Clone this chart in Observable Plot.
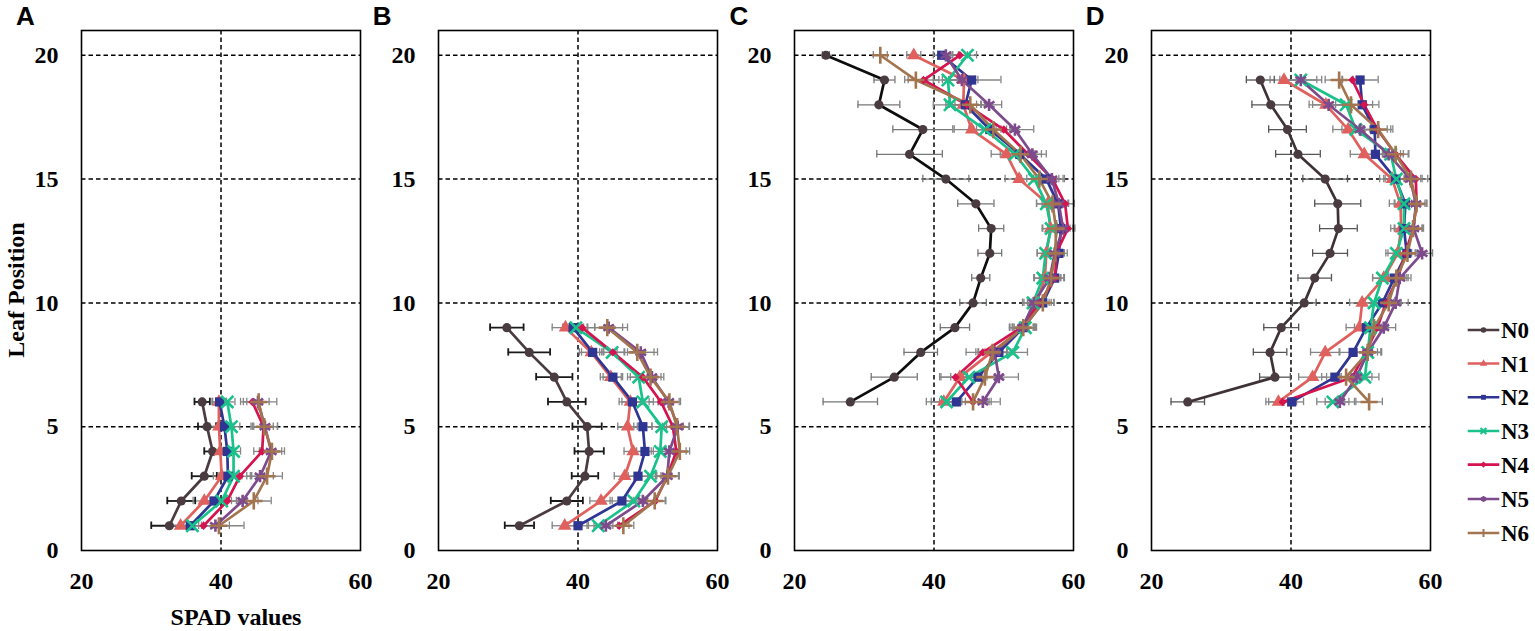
<!DOCTYPE html>
<html><head><meta charset="utf-8">
<script src="https://cdn.jsdelivr.net/npm/d3@7"></script>
<script src="https://cdn.jsdelivr.net/npm/@observablehq/plot@0.6"></script>
<style>
html,body{margin:0;padding:0;background:#fff;}
#wrap{position:relative;width:1535px;height:631px;overflow:hidden;background:#fff;}
.lbl{position:absolute;font-family:"Liberation Serif","Times New Roman",serif;font-weight:bold;color:#000;white-space:nowrap;}
.let{position:absolute;font-family:"Liberation Sans",Arial,sans-serif;font-weight:bold;font-size:26px;color:#000;line-height:1;}
.pl{position:absolute;top:0;}
</style></head>
<body><div id="wrap"></div>
<script>
// ---- data ----
const series = ["N0","N1","N2","N3","N4","N5","N6"];
const colors = ["#4a3b40","#e0605e","#2e3593","#19c28a","#d5134f","#7d4a8c","#a2744f"];
const panels = ["A","B","C","D"];
const xTicks = [20,40,60];
const yTicks = [0,5,10,15,20];

const leavesA = [1,2,3,4,5,6];
const spadA = [
  [32.6,34.3,37.6,38.8,38.0,37.3],
  [34.2,37.6,40.1,39.9,39.7,39.7],
  [35.6,39.0,41.0,40.9,40.5,39.8],
  [35.9,40.1,41.8,41.8,41.5,40.9],
  [37.5,40.9,42.7,45.9,46.1,44.5],
  [39.2,43.1,45.6,47.2,46.3,45.3],
  [39.7,44.7,46.6,47.3,46.2,45.4]
];
const errA = [
  [2.6,2.0,1.8,1.2,1.3,1.1],
  [1.5,1.6,1.2,1.0,1.3,1.0],
  [1.2,1.5,1.3,1.1,1.2,1.0],
  [1.6,1.4,1.2,1.0,1.2,1.1],
  [1.8,1.7,1.5,1.2,1.4,1.3],
  [2.0,2.2,1.9,1.5,1.8,1.6],
  [3.6,2.5,2.2,1.8,1.9,2.6]
];

const leavesB = [1,2,3,4,5,6,7,8,9];
const spadB = [
  [31.6,38.4,41.0,41.6,41.3,38.4,36.6,33.0,29.8],
  [38.1,43.3,46.7,47.9,47.1,47.5,44.7,41.9,38.2],
  [40.0,46.3,48.6,49.6,49.3,47.8,45.0,42.1,39.3],
  [42.9,48.0,50.4,51.8,52.0,49.3,48.7,44.9,39.7],
  [45.9,51.1,52.8,54.1,53.6,51.9,49.3,45.0,40.6],
  [44.0,49.3,52.8,53.1,54.3,53.0,50.6,49.0,44.4],
  [46.5,51.0,52.9,54.6,54.2,53.1,50.4,48.5,44.2]
];
const errB = [
  [2.1,2.3,1.9,2.1,2.1,2.7,2.6,3.0,2.4],
  [1.8,1.6,1.5,1.3,1.4,1.6,1.5,1.7,1.9],
  [1.5,1.7,1.4,1.2,1.3,1.5,1.4,1.6,1.5],
  [1.6,1.5,1.5,1.3,1.4,1.5,1.6,1.8,1.7],
  [1.4,1.5,1.6,1.4,1.5,1.7,1.8,1.6,1.8],
  [1.7,1.6,1.7,1.5,1.6,1.5,1.7,1.9,2.0],
  [1.5,1.5,1.6,1.4,1.8,1.6,1.5,2.9,2.9]
];

const leavesC = [6,7,8,9,10,11,12,13,14,15,16,17,18,19,20];
const spadC = [
  [28.0,34.3,38.1,43.0,45.6,46.7,48.0,48.2,46.0,41.7,36.5,38.4,32.1,32.9,24.5],
  [41.4,43.7,48.2,52.9,54.7,55.9,56.1,56.7,56.3,52.2,50.4,45.4,44.2,44.3,37.1],
  [43.2,46.3,49.3,52.8,55.6,57.3,57.9,58.2,57.8,56.1,52.3,48.0,44.5,45.4,41.1],
  [41.8,45.0,51.3,53.1,54.2,55.6,56.0,56.8,56.1,54.4,51.6,47.3,42.3,42.0,44.8],
  [45.6,43.1,47.0,52.5,55.1,57.4,57.5,59.2,58.8,57.0,53.5,50.0,44.7,38.5,43.7],
  [47.0,49.3,48.7,52.7,54.3,56.6,57.3,58.5,57.9,56.9,54.1,51.6,47.9,44.0,41.7],
  [45.6,47.3,48.4,52.8,55.6,56.8,57.4,57.5,57.0,55.1,52.4,48.5,45.2,37.4,32.3]
];
const errC = [
  [3.9,3.3,2.4,2.1,1.9,1.3,1.7,1.8,2.6,3.3,4.7,4.3,3.0,1.5,0.5],
  [2.5,2.7,2.2,1.6,1.8,1.5,1.3,1.2,1.6,2.0,2.2,2.5,2.5,2.0,1.0],
  [2.4,2.5,2.0,1.5,1.6,1.4,1.2,1.3,1.5,1.8,2.0,2.4,2.3,4.2,1.2],
  [2.2,2.6,2.1,1.6,1.5,1.3,1.2,1.2,1.4,1.9,2.1,2.3,2.4,2.1,1.3],
  [2.6,2.3,2.4,1.7,1.7,1.2,1.1,1.0,1.3,1.7,1.9,2.1,2.6,2.2,1.1],
  [2.5,2.8,2.3,1.8,1.6,1.5,1.2,1.4,1.3,1.6,2.0,2.7,1.8,1.9,1.0],
  [2.3,2.5,2.1,1.6,1.6,1.4,1.3,1.2,1.5,1.8,2.1,2.4,2.2,1.6,1.0]
];

const leavesD = [6,7,8,9,10,11,12,13,14,15,16,17,18,19];
const spadD = [
  [25.2,37.7,37.0,38.6,41.9,43.4,45.6,46.8,46.7,44.9,41.0,39.5,37.1,35.6],
  [38.2,43.1,44.9,49.8,50.2,53.3,55.3,55.8,55.7,54.5,50.5,48.2,45.0,39.0],
  [40.1,46.3,48.9,50.8,53.1,54.8,56.6,56.2,56.4,55.0,52.1,52.0,50.2,49.9],
  [46.0,50.6,51.0,51.4,51.9,53.1,55.1,56.2,56.2,55.1,54.3,49.3,47.9,41.4],
  [38.8,48.8,50.7,52.4,53.6,55.3,56.4,57.5,58.0,57.9,55.0,52.4,50.5,48.8],
  [47.0,49.4,51.0,53.3,55.0,55.6,58.8,57.6,57.9,57.1,54.0,49.9,45.4,41.4],
  [51.2,47.9,51.0,51.9,54.0,55.1,56.7,57.5,58.0,57.2,55.0,52.5,48.6,46.9]
];
const errD = [
  [2.4,2.2,2.4,2.5,1.7,2.4,2.5,2.7,3.3,3.2,3.2,2.7,2.7,2.0],
  [1.8,2.0,2.1,1.9,1.8,1.6,1.4,1.5,1.6,1.8,2.0,2.2,2.4,2.0],
  [1.7,1.9,2.0,1.7,1.6,1.5,1.3,1.4,1.5,1.7,1.9,1.8,1.5,2.6],
  [2.3,2.0,1.9,1.6,1.7,1.4,1.5,1.3,1.4,1.6,1.8,2.0,2.6,3.0],
  [2.0,1.8,1.7,1.5,1.6,1.5,1.4,1.3,1.5,1.7,1.9,1.9,2.1,1.4],
  [2.1,2.2,1.9,1.7,1.8,1.6,1.5,1.4,1.3,1.5,1.7,2.0,2.3,2.3],
  [1.9,2.1,2.0,1.6,1.8,1.5,1.4,1.3,1.4,1.6,1.8,2.1,2.2,2.0]
];

// ---- styling ----
const symbols = ["circle","triangle","square","times","diamond2","asterisk","plus"];
const filled  = [true,true,true,false,true,false,false];
const radius  = [4.6,5.0,5.2,5.6,3.8,5.8,5.6];
const panelLeft = [81, 437.7, 794.4, 1150.8];
const n0Line = ["#4a3b40","#4a3b40","#0d0d0d","#3f3236"];
const n0Err  = ["#1a1a1a","#1a1a1a","#777777","#555555"];
const wrap = document.getElementById("wrap");

function makePanel(k, leaves, spad, err) {
  const rows = [];
  series.forEach((s, si) => leaves.forEach((l, i) => rows.push({s, si, leaf: l, v: spad[si][i], e: err[si][i]})));
  const errColor = d => d.si === 0 ? n0Err[k] : "#858585";
  const errW = d => (d.si === 0 && k < 2) ? 1.8 : 1.3;
  const cap = 0.15;
  const marks = [
    Plot.ruleY([5,10,15,20], {stroke: "#000", strokeWidth: 1.5, strokeDasharray: "4.5,3"}),
    Plot.ruleX([40], {stroke: "#000", strokeWidth: 1.5, strokeDasharray: "4.5,3"}),
    Plot.ruleY(rows, {y: "leaf", x1: d => d.v - d.e, x2: d => d.v + d.e, stroke: errColor, strokeWidth: errW}),
    Plot.ruleX(rows, {x: d => d.v - d.e, y1: d => d.leaf - cap, y2: d => d.leaf + cap, stroke: errColor, strokeWidth: errW}),
    Plot.ruleX(rows, {x: d => d.v + d.e, y1: d => d.leaf - cap, y2: d => d.leaf + cap, stroke: errColor, strokeWidth: errW})
  ];
  series.forEach((s, si) => {
    const sub = rows.filter(d => d.si === si);
    marks.push(Plot.line(sub, {x: "v", y: "leaf", stroke: si === 0 ? n0Line[k] : colors[si], strokeWidth: 2.7}));
  });
  series.forEach((s, si) => {
    const sub = rows.filter(d => d.si === si);
    const o = {x: "v", y: "leaf", symbol: symbols[si], r: radius[si]};
    if (filled[si]) { o.fill = colors[si]; o.stroke = "none"; }
    else { o.fill = "none"; o.stroke = colors[si]; o.strokeWidth = 2.6; }
    marks.push(Plot.dot(sub, o));
  });
  marks.push(Plot.frame({stroke: "#000", strokeWidth: 1.6}));
  marks.push(Plot.axisX({ticks: xTicks, tickSize: 0, tickPadding: 21, label: null}));
  marks.push(Plot.axisY({ticks: yTicks, tickSize: 0, tickPadding: 23, label: null}));
  const chart = Plot.plot({
    width: 362, height: 631,
    marginLeft: 81, marginRight: 2, marginTop: 30, marginBottom: 81,
    x: {domain: [20, 60]},
    y: {domain: [0, 21]},
    style: {background: "transparent", overflow: "visible", fontFamily: '"Liberation Serif","Times New Roman",serif', fontSize: "24px", fontWeight: "bold", color: "#000"},
    marks
  });
  chart.classList.add("pl");
  chart.style.left = (panelLeft[k] - 81) + "px";
  chart.style.position = "absolute";
  wrap.appendChild(chart);
  const t = document.createElement("div");
  t.className = "let";
  t.textContent = panels[k];
  t.style.left = (panelLeft[k] - 65) + "px";
  t.style.top = "3px";
  wrap.appendChild(t);
}
makePanel(0, leavesA, spadA, errA);
makePanel(1, leavesB, spadB, errB);
makePanel(2, leavesC, spadC, errC);
makePanel(3, leavesD, spadD, errD);

// axis titles
const yt = document.createElement("div");
yt.className = "lbl";
yt.textContent = "Leaf Position";
yt.style.fontSize = "24px";
yt.style.left = "16px"; yt.style.top = "290px";
yt.style.transform = "translate(-50%,-50%) rotate(-90deg)";
wrap.appendChild(yt);
const xt = document.createElement("div");
xt.className = "lbl";
xt.textContent = "SPAD values";
xt.style.fontSize = "24px";
xt.style.left = "236px"; xt.style.top = "617px";
xt.style.transform = "translate(-50%,-50%)";
wrap.appendChild(xt);

// legend
const d3sym = [d3.symbolCircle, d3.symbolTriangle, d3.symbolSquare, d3.symbolTimes, d3.symbolDiamond2, d3.symbolAsterisk, d3.symbolPlus];
const legendY = [330, 363.5, 397.3, 431, 464.6, 499, 533];
const lg = d3.select(wrap).append("svg")
  .attr("width", 110).attr("height", 260)
  .style("position", "absolute").style("left", "1460px").style("top", "300px");
series.forEach((s, si) => {
  const y = legendY[si] - 300;
  const g = lg.append("g");
  g.append("line").attr("x1", 7.7).attr("x2", 39.3).attr("y1", y).attr("y2", y)
    .attr("stroke", colors[si]).attr("stroke-width", 2.6);
  const p = g.append("path").attr("transform", `translate(23.5,${y})`)
    .attr("d", d3.symbol(d3sym[si], 24)());
  if (filled[si]) p.attr("fill", colors[si]);
  else p.attr("fill", "none").attr("stroke", colors[si]).attr("stroke-width", 2);
  g.append("text").attr("x", 41).attr("y", y).attr("dy", "0.35em")
    .attr("font-family", '"Liberation Serif","Times New Roman",serif')
    .attr("font-weight", "bold").attr("font-size", 23).attr("fill", "#000").text(s);
});
</script>
</body></html>
